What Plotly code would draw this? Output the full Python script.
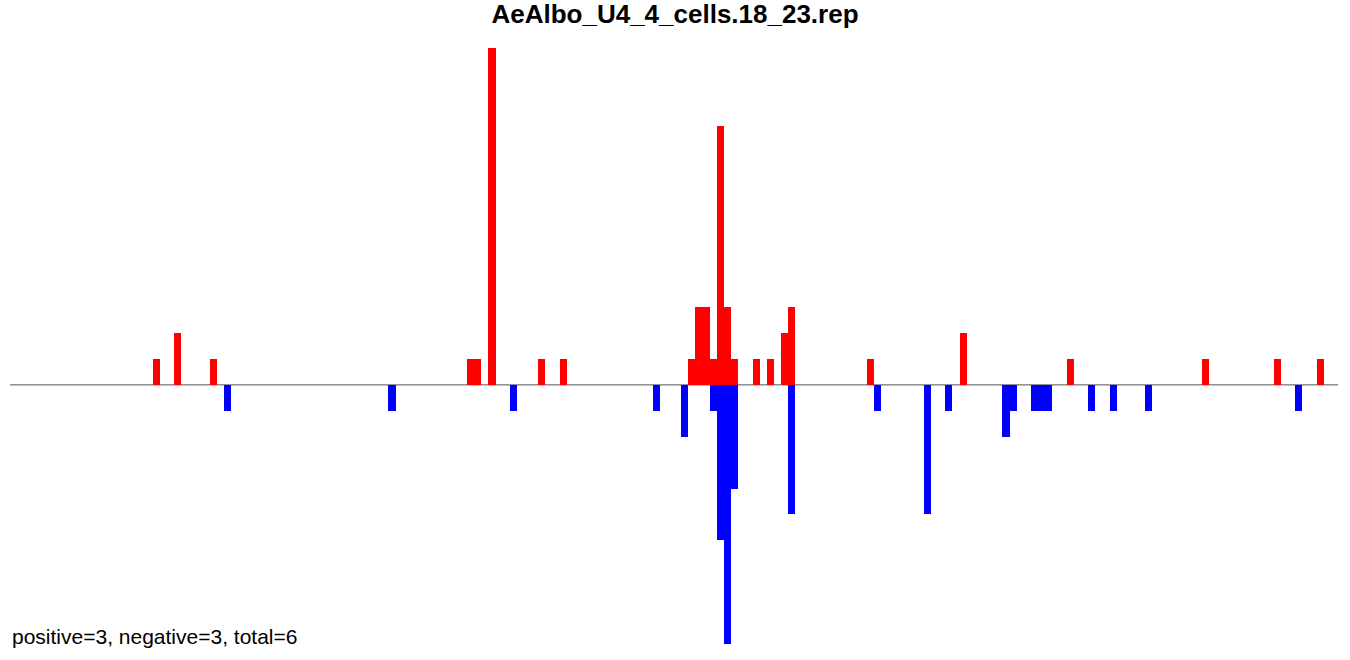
import plotly.graph_objects as go

n_bins = 186
# positive (red) bars: bin index and height
red_pos = [20, 23, 28, 64, 65, 67, 74, 77, 95, 96, 97, 98, 99, 100, 101, 104, 106, 108, 109,
           120, 133, 148, 167, 177, 183]
red_val = [1, 2, 1, 1, 1, 13, 1, 1, 1, 3, 3, 1, 10, 3, 1, 1, 1, 2, 3,
           1, 2, 1, 1, 1, 1]
# negative (blue) bars
blue_pos = [30, 53, 70, 90, 94, 98, 99, 100, 101, 109, 121, 128, 131, 139, 140, 143, 144, 145,
            151, 154, 159, 180]
blue_val = [-1, -1, -1, -1, -2, -1, -6, -10, -4, -5, -1, -5, -1, -2, -1, -1, -1, -1,
            -1, -1, -1, -1]

title_text = "AeAlbo_U4_4_cells.18_23.rep"
footer_text = "positive=3, negative=3, total=6"

fig = go.Figure()
fig.add_trace(go.Bar(x=red_pos, y=red_val, width=1, marker=dict(color="#ff0000", line=dict(width=0)),
                     hoverinfo="x+y"))
fig.add_trace(go.Bar(x=blue_pos, y=blue_val, width=1, marker=dict(color="#0000ff", line=dict(width=0)),
                     hoverinfo="x+y"))

fig.add_shape(type="line", xref="x", yref="y", x0=-0.5, x1=n_bins - 0.5, y0=0, y1=0,
              line=dict(color="#555555", width=1), layer="below")

fig.update_layout(
    width=1350, height=660,
    margin=dict(l=10, r=12, t=48, b=16),
    paper_bgcolor="white", plot_bgcolor="white",
    barmode="overlay", bargap=0, showlegend=False,
    font=dict(family="Liberation Sans, Arial, sans-serif", color="black"),
    title=dict(text="<b>" + title_text + "</b>", x=0.5, xanchor="center",
               yref="container", y=(660 - 14) / 660, yanchor="middle",
               font=dict(size=26, color="black")),
    xaxis=dict(range=[-0.5, n_bins - 0.5], visible=False, showgrid=False, zeroline=False),
    yaxis=dict(range=[-10, 13], visible=False, showgrid=False, zeroline=False),
)

fig.add_annotation(text=footer_text, xref="paper", yref="paper", x=0, y=(644 - 636) / 596,
                   xanchor="left", yanchor="middle", showarrow=False,
                   font=dict(size=21, color="black"))

fig.write_html("out.html", config={"displayModeBar": False},
               post_script="document.body.style.margin='0';")
